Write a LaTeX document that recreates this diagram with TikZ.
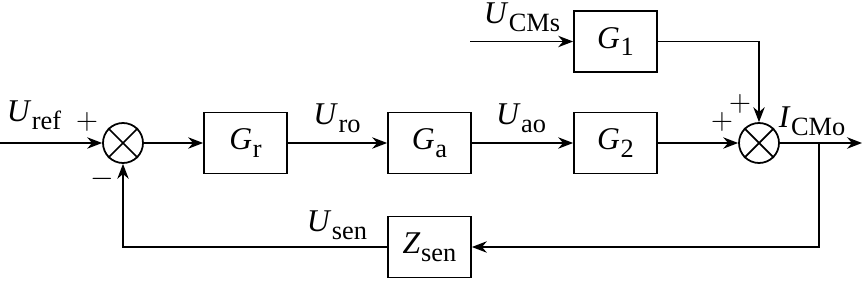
\documentclass[tikz,border=0pt]{standalone}
\usepackage{fontspec}
\setmainfont{Liberation Serif}
\usepackage{tikz}
\usetikzlibrary{arrows.meta, positioning, calc}

\newcommand{\sig}[2]{\textit{#1}\kern0.3pt\raisebox{-4.5pt}{\fontsize{15}{15}\selectfont #2}}

\begin{document}
\begin{tikzpicture}[line width=1pt, >={Stealth[length=8.5pt,width=6.5pt]},
  every node/.style={font=\fontsize{18}{20}\selectfont},
  block/.style={draw, minimum width=1.66cm, minimum height=1.22cm, inner sep=0pt},
  summer/.style={draw, circle, minimum size=0.8cm, inner sep=0pt}]
  \useasboundingbox (0,0) rectangle (17.24,5.6);
  % forward path
  \node[summer] (sumA) at (2.46,2.74) {};
  \node[block] (Gr) at (4.91,2.74) {\sig{G}{r}};
  \node[block] (Ga) at (8.59,2.74) {\sig{G}{a}};
  \node[block] (G2) at (12.31,2.74) {\sig{G}{2}};
  \node[summer] (sumB) at (15.18,2.74) {};
  \node[block] (G1) at (12.31,4.77) {\sig{G}{1}};
  \node[block] (Zsen) at (8.59,0.66) {\sig{Z}{sen}};
  \draw (sumA.north west) -- (sumA.south east) (sumA.north east) -- (sumA.south west);
  \draw (sumB.north west) -- (sumB.south east) (sumB.north east) -- (sumB.south west);
  \coordinate (uin) at (0,2.74);
  \coordinate (uout) at (17.24,2.74);
  \coordinate (tap) at (16.38,2.74);
  \coordinate (cmsin) at (9.4,4.77);
  \draw[->] (uin) -- (sumA);
  \draw[->] (sumA) -- (Gr);
  \draw[->] (Gr) -- (Ga);
  \draw[->] (Ga) -- (G2);
  \draw[->] (G2) -- (sumB);
  \draw[->] (sumB) -- (uout);
  \draw[->] (cmsin) -- (G1);
  \draw[->] (G1) -| (sumB);
  % feedback
  \draw[->] (tap) |- (Zsen);
  \draw[->] (Zsen) -| (sumA);
  % labels
  \node (lref) at (0.68,3.3) {\sig{U}{ref}};
  \node (lro) at (6.74,3.24) {\sig{U}{ro}};
  \node (lao) at (10.42,3.24) {\sig{U}{ao}};
  \node (lsen) at (6.74,1.1) {\sig{U}{sen}};
  \node (lcms) at (10.44,5.26) {\sig{U}{CMs}};
  \node (lcmo) at (16.24,3.18) {\sig{I}{CMo}};
  \node (pA) at (1.74,3.16) {$+$};
  \node (mA) at (2.04,2.02) {$-$};
  \node (pB) at (14.44,3.16) {$+$};
  \node (pC) at (14.8,3.52) {$+$};
\end{tikzpicture}
\end{document}
